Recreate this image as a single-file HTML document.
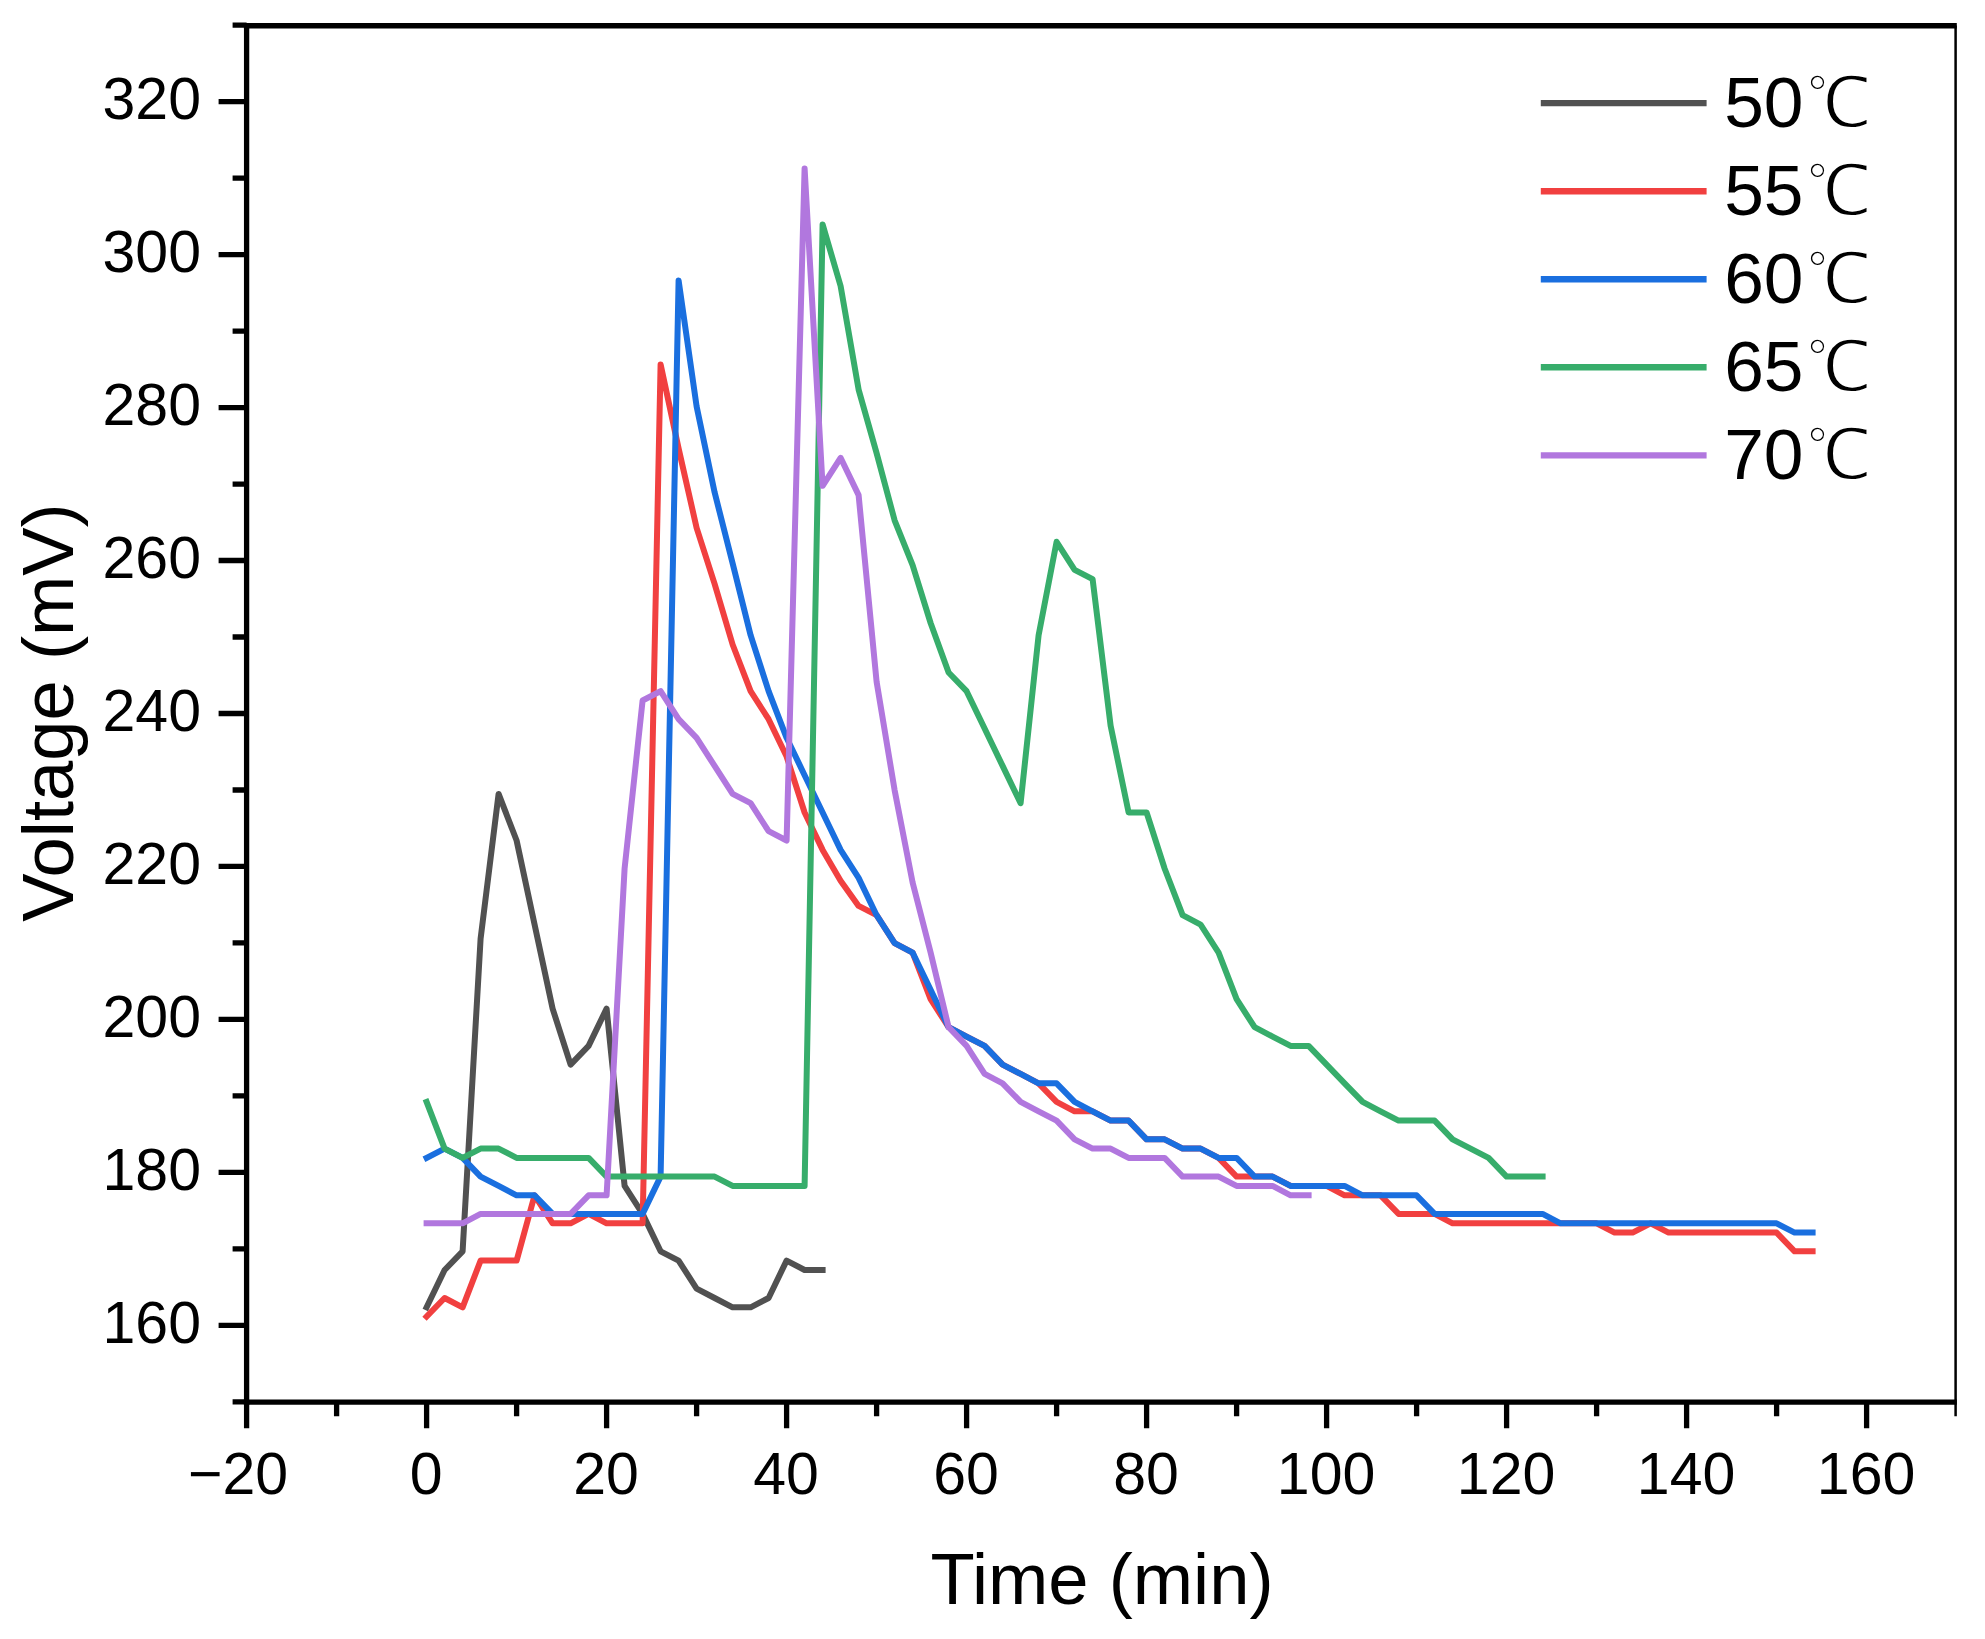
<!DOCTYPE html>
<html lang="en"><head><meta charset="utf-8"><title>Voltage vs Time</title>
<style>
html,body{margin:0;padding:0;background:#fff;}
body{width:1985px;height:1639px;overflow:hidden;}
svg{display:block;}
text{font-family:"Liberation Sans",sans-serif;fill:#000;}
.tk{font-size:59px;}
.ti{font-size:72.4px;}
.lg{font-size:71.3px;}
.dc{font-family:"WenQuanYi Zen Hei","Noto Sans CJK SC",sans-serif;font-size:70.5px;stroke:#fff;stroke-width:2.1px;}
</style></head><body>
<svg width="1985" height="1639" viewBox="0 0 1985 1639">
<rect width="1985" height="1639" fill="#fff"/>

<g fill="none" stroke-width="6.0" stroke-linejoin="round" stroke-linecap="square">
<polyline stroke="#515151" points="426.6,1307.3 444.6,1270.0 462.6,1251.3 480.6,938.6 498.6,793.9 516.6,840.5 534.6,924.6 552.6,1008.6 570.6,1064.6 588.6,1045.9 606.6,1008.6 624.6,1185.9 642.6,1213.9 660.6,1251.3 678.6,1260.6 696.6,1288.6 714.6,1298.0 732.6,1307.3 750.6,1307.3 768.6,1298.0 786.6,1260.6 804.6,1270.0 822.6,1270.0"/>
<polyline stroke="#f14040" points="426.6,1316.6 444.6,1298.0 462.6,1307.3 480.6,1260.6 498.6,1260.6 516.6,1260.6 534.6,1195.3 552.6,1223.3 570.6,1223.3 588.6,1213.9 606.6,1223.3 624.6,1223.3 642.6,1223.3 660.6,364.4 678.6,448.5 696.6,527.8 714.6,583.8 732.6,644.5 750.6,691.2 768.6,719.2 786.6,756.5 804.6,812.5 822.6,849.9 840.6,880.7 858.6,905.9 876.6,915.2 894.6,943.2 912.6,952.6 930.6,999.2 948.6,1027.2 966.6,1036.6 984.6,1045.9 1002.6,1064.6 1020.6,1073.9 1038.6,1083.3 1056.6,1101.9 1074.6,1111.3 1092.6,1111.3 1110.6,1120.6 1128.6,1120.6 1146.6,1139.3 1164.6,1139.3 1182.6,1148.6 1200.6,1148.6 1218.6,1157.9 1236.6,1176.6 1254.6,1176.6 1272.6,1176.6 1290.6,1185.9 1308.6,1185.9 1326.6,1185.9 1344.6,1195.3 1362.6,1195.3 1380.6,1195.3 1398.6,1213.9 1416.6,1213.9 1434.6,1213.9 1452.6,1223.3 1470.6,1223.3 1488.6,1223.3 1506.6,1223.3 1524.6,1223.3 1542.6,1223.3 1560.6,1223.3 1578.6,1223.3 1596.6,1223.3 1614.6,1232.6 1632.6,1232.6 1650.6,1223.3 1668.6,1232.6 1686.6,1232.6 1704.6,1232.6 1722.6,1232.6 1740.6,1232.6 1758.6,1232.6 1776.6,1232.6 1794.6,1251.3 1812.6,1251.3"/>
<polyline stroke="#1a6fdf" points="426.6,1157.9 444.6,1148.6 462.6,1157.9 480.6,1176.6 498.6,1185.9 516.6,1195.3 534.6,1195.3 552.6,1213.9 570.6,1213.9 588.6,1213.9 606.6,1213.9 624.6,1213.9 642.6,1213.9 660.6,1176.6 678.6,280.4 696.6,406.4 714.6,492.3 732.6,563.3 750.6,635.2 768.6,691.2 786.6,737.8 804.6,775.2 822.6,812.5 840.6,849.9 858.6,877.9 876.6,915.2 894.6,943.2 912.6,952.6 930.6,989.9 948.6,1027.2 966.6,1036.6 984.6,1045.9 1002.6,1064.6 1020.6,1073.9 1038.6,1083.3 1056.6,1083.3 1074.6,1101.9 1092.6,1111.3 1110.6,1120.6 1128.6,1120.6 1146.6,1139.3 1164.6,1139.3 1182.6,1148.6 1200.6,1148.6 1218.6,1157.9 1236.6,1157.9 1254.6,1176.6 1272.6,1176.6 1290.6,1185.9 1308.6,1185.9 1326.6,1185.9 1344.6,1185.9 1362.6,1195.3 1380.6,1195.3 1398.6,1195.3 1416.6,1195.3 1434.6,1213.9 1452.6,1213.9 1470.6,1213.9 1488.6,1213.9 1506.6,1213.9 1524.6,1213.9 1542.6,1213.9 1560.6,1223.3 1578.6,1223.3 1596.6,1223.3 1614.6,1223.3 1632.6,1223.3 1650.6,1223.3 1668.6,1223.3 1686.6,1223.3 1704.6,1223.3 1722.6,1223.3 1740.6,1223.3 1758.6,1223.3 1776.6,1223.3 1794.6,1232.6 1812.6,1232.6"/>
<polyline stroke="#37ad6b" points="426.6,1101.9 444.6,1148.6 462.6,1157.9 480.6,1148.6 498.6,1148.6 516.6,1157.9 534.6,1157.9 552.6,1157.9 570.6,1157.9 588.6,1157.9 606.6,1176.6 624.6,1176.6 642.6,1176.6 660.6,1176.6 678.6,1176.6 696.6,1176.6 714.6,1176.6 732.6,1185.9 750.6,1185.9 768.6,1185.9 786.6,1185.9 804.6,1185.9 822.6,224.4 840.6,286.0 858.6,389.6 876.6,453.1 894.6,520.3 912.6,565.1 930.6,623.0 948.6,672.5 966.6,691.2 984.6,728.5 1002.6,765.9 1020.6,803.2 1038.6,635.2 1056.6,541.8 1074.6,569.8 1092.6,579.1 1110.6,725.7 1128.6,812.5 1146.6,812.5 1164.6,868.5 1182.6,915.2 1200.6,924.6 1218.6,952.6 1236.6,999.2 1254.6,1027.2 1272.6,1036.6 1290.6,1045.9 1308.6,1045.9 1326.6,1064.6 1344.6,1083.3 1362.6,1101.9 1380.6,1111.3 1398.6,1120.6 1416.6,1120.6 1434.6,1120.6 1452.6,1139.3 1470.6,1148.6 1488.6,1157.9 1506.6,1176.6 1524.6,1176.6 1542.6,1176.6"/>
<polyline stroke="#b177de" points="426.6,1223.3 444.6,1223.3 462.6,1223.3 480.6,1213.9 498.6,1213.9 516.6,1213.9 534.6,1213.9 552.6,1213.9 570.6,1213.9 588.6,1195.3 606.6,1195.3 624.6,868.5 642.6,700.5 660.6,691.2 678.6,719.2 696.6,737.8 714.6,765.9 732.6,793.9 750.6,803.2 768.6,831.2 786.6,840.5 804.6,168.4 822.6,485.8 840.6,457.8 858.6,495.1 876.6,681.8 894.6,790.1 912.6,882.5 930.6,952.6 948.6,1027.2 966.6,1045.9 984.6,1073.9 1002.6,1083.3 1020.6,1101.9 1038.6,1111.3 1056.6,1120.6 1074.6,1139.3 1092.6,1148.6 1110.6,1148.6 1128.6,1157.9 1146.6,1157.9 1164.6,1157.9 1182.6,1176.6 1200.6,1176.6 1218.6,1176.6 1236.6,1185.9 1254.6,1185.9 1272.6,1185.9 1290.6,1195.3 1308.6,1195.3"/>
</g>
<g stroke="#000" fill="none" stroke-linecap="butt">
<path stroke-width="5.3" d="M246.6 22.9 V1404.9"/>
<path stroke-width="5.3" d="M243.9 1402.2 H1956.8"/>
<path stroke-width="5.6" d="M243.9 25.8 H1956.8"/>
<path stroke-width="2.5" d="M1955.6 25.5 V1416.2"/>
<path stroke-width="5.3" d="M246.6 1401.8H232.6M246.6 1325.3H218.6M246.6 1248.8H232.6M246.6 1172.3H218.6M246.6 1095.9H232.6M246.6 1019.4H218.6M246.6 942.9H232.6M246.6 866.4H218.6M246.6 790.0H232.6M246.6 713.5H218.6M246.6 637.0H232.6M246.6 560.5H218.6M246.6 484.1H232.6M246.6 407.6H218.6M246.6 331.1H232.6M246.6 254.6H218.6M246.6 178.2H232.6M246.6 101.7H218.6M246.6 25.2H232.6M246.6 1402.2V1428.2M336.6 1402.2V1416.2M426.6 1402.2V1428.2M516.6 1402.2V1416.2M606.6 1402.2V1428.2M696.6 1402.2V1416.2M786.6 1402.2V1428.2M876.6 1402.2V1416.2M966.6 1402.2V1428.2M1056.6 1402.2V1416.2M1146.6 1402.2V1428.2M1236.6 1402.2V1416.2M1326.6 1402.2V1428.2M1416.6 1402.2V1416.2M1506.6 1402.2V1428.2M1596.6 1402.2V1416.2M1686.6 1402.2V1428.2M1776.6 1402.2V1416.2M1866.6 1402.2V1428.2"/>
</g>
<g class="tk" text-anchor="end">
<text x="201" y="1342.9">160</text>
<text x="201" y="1189.9">180</text>
<text x="201" y="1037.0">200</text>
<text x="201" y="884.0">220</text>
<text x="201" y="731.1">240</text>
<text x="201" y="578.1">260</text>
<text x="201" y="425.2">280</text>
<text x="201" y="272.2">300</text>
<text x="201" y="119.3">320</text>
</g>
<g class="tk" text-anchor="middle">
<text x="238.1" y="1493.6">−20</text>
<text x="426.1" y="1493.6">0</text>
<text x="606.1" y="1493.6">20</text>
<text x="786.1" y="1493.6">40</text>
<text x="966.1" y="1493.6">60</text>
<text x="1146.1" y="1493.6">80</text>
<text x="1326.1" y="1493.6">100</text>
<text x="1506.1" y="1493.6">120</text>
<text x="1686.1" y="1493.6">140</text>
<text x="1866.1" y="1493.6">160</text>
</g>
<text class="ti" text-anchor="middle" x="1102" y="1604.4">Time (min)</text>
<text class="ti" text-anchor="middle" transform="translate(73,712.5) rotate(-90)">Voltage (mV)</text>
<path d="M1540.8 103.1H1706.6" stroke="#515151" stroke-width="6.4" fill="none"/>
<text class="lg" x="1724.2" y="126.5">50<tspan class="dc" x="1806.4" y="127.1">℃</tspan></text>
<path d="M1540.8 191.2H1706.6" stroke="#f14040" stroke-width="6.4" fill="none"/>
<text class="lg" x="1724.2" y="214.6">55<tspan class="dc" x="1806.4" y="215.2">℃</tspan></text>
<path d="M1540.8 279.2H1706.6" stroke="#1a6fdf" stroke-width="6.4" fill="none"/>
<text class="lg" x="1724.2" y="302.6">60<tspan class="dc" x="1806.4" y="303.2">℃</tspan></text>
<path d="M1540.8 367.3H1706.6" stroke="#37ad6b" stroke-width="6.4" fill="none"/>
<text class="lg" x="1724.2" y="390.7">65<tspan class="dc" x="1806.4" y="391.3">℃</tspan></text>
<path d="M1540.8 455.4H1706.6" stroke="#b177de" stroke-width="6.4" fill="none"/>
<text class="lg" x="1724.2" y="478.8">70<tspan class="dc" x="1806.4" y="479.4">℃</tspan></text>
</svg></body></html>
